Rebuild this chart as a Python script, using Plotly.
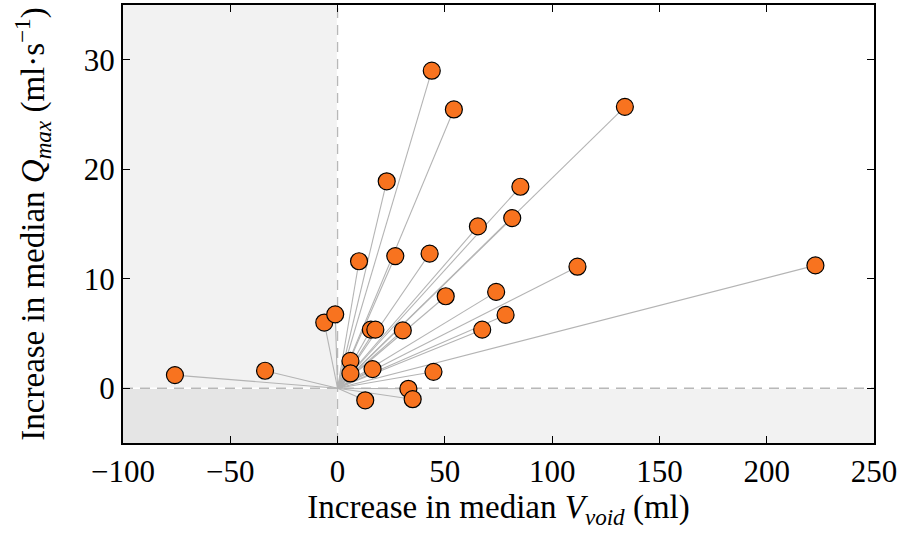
import plotly.graph_objects as go

# Increase in median V_void (ml)
v_void = [-75.8, -33.8, -6.2, -1.1, 6.0, 6.0, 16.3, 12.9, 33.0, 35.0,
          44.7, 15.5, 17.6, 30.4, 10.0, 26.9, 42.9, 22.9, 43.9, 50.4,
          54.2, 133.9, 85.2, 65.4, 81.4, 111.8, 222.7, 73.9, 78.3, 67.4]
# Increase in median Q_max (ml/s)
q_max = [1.2, 1.6, 6.0, 6.75, 2.5, 1.35, 1.75, -1.1, -0.05, -1.0,
         1.5, 5.35, 5.35, 5.28, 11.6, 12.07, 12.3, 18.9, 29.0, 8.4,
         25.46, 25.7, 18.4, 14.78, 15.54, 11.1, 11.22, 8.8, 6.7, 5.35]

x_ticks = [-100, -50, 0, 50, 100, 150, 200, 250]
y_ticks = [0, 10, 20, 30]
x_range = [-100, 250]
y_range = [-5, 35]

# spokes from origin to each point
lx, ly = [], []
for xv, yv in zip(v_void, q_max):
    lx += [0, xv, None]
    ly += [0, yv, None]

fig = go.Figure()
fig.add_trace(go.Scatter(x=lx, y=ly, mode="lines",
                         line=dict(color="#b4b4b4", width=1.1),
                         hoverinfo="skip", showlegend=False))
fig.add_trace(go.Scatter(x=v_void, y=q_max, mode="markers",
                         marker=dict(size=17, color="#f8731f",
                                     line=dict(color="black", width=1.2)),
                         showlegend=False))

# quadrant shading
shapes = [
    dict(type="rect", xref="x", yref="y", x0=x_range[0], x1=0, y0=0, y1=y_range[1],
         fillcolor="#f2f2f2", line=dict(width=0), layer="below"),
    dict(type="rect", xref="x", yref="y", x0=0, x1=x_range[1], y0=y_range[0], y1=0,
         fillcolor="#f2f2f2", line=dict(width=0), layer="below"),
    dict(type="rect", xref="x", yref="y", x0=x_range[0], x1=0, y0=y_range[0], y1=0,
         fillcolor="#e5e5e5", line=dict(width=0), layer="below"),
    dict(type="line", xref="x", yref="y", x0=0, x1=0, y0=y_range[0], y1=y_range[1],
         line=dict(color="white", width=1.5), layer="below"),
    dict(type="line", xref="x", yref="y", x0=x_range[0], x1=x_range[1], y0=0, y1=0,
         line=dict(color="white", width=1.5), layer="below"),
    dict(type="line", xref="x", yref="y", x0=0, x1=0, y0=y_range[0], y1=y_range[1],
         line=dict(color="#b8b8b8", width=1.3, dash="10px,7px"), layer="below"),
    dict(type="line", xref="x", yref="y", x0=x_range[0], x1=x_range[1], y0=0, y1=0,
         line=dict(color="#b8b8b8", width=1.3, dash="10px,7px"), layer="below"),
]

font_family = "Liberation Serif, Times New Roman, serif"

fig.update_layout(
    width=901, height=540,
    margin=dict(l=123, r=27, t=5, b=97, autoexpand=False),
    plot_bgcolor="white", paper_bgcolor="white",
    shapes=shapes,
    font=dict(family=font_family, color="black", size=31),
    xaxis=dict(range=x_range, tickvals=x_ticks, ticks="inside", ticklen=7,
               tickwidth=1.2, tickcolor="black", showgrid=False, zeroline=False,
               showline=True, linecolor="black", linewidth=2, mirror="ticks",
               tickfont=dict(size=31), automargin=True,
               title=dict(text="Increase in median <i>V</i><sub><i>void</i></sub> (ml)",
                          font=dict(size=33), standoff=7)),
    yaxis=dict(range=y_range, tickvals=y_ticks, ticks="inside", ticklen=7,
               tickwidth=1.2, tickcolor="black", showgrid=False, zeroline=False,
               showline=True, linecolor="black", linewidth=2, mirror="ticks",
               tickfont=dict(size=31), automargin=True,
               title=dict(text="Increase in median <i>Q</i><sub><i>max</i></sub> (ml·s<sup>−1</sup>)",
                          font=dict(size=33), standoff=29)),
)

fig.write_html("out.html",
               config={"displayModeBar": False},
               post_script="document.body.style.margin='0';document.body.style.padding='0';")
